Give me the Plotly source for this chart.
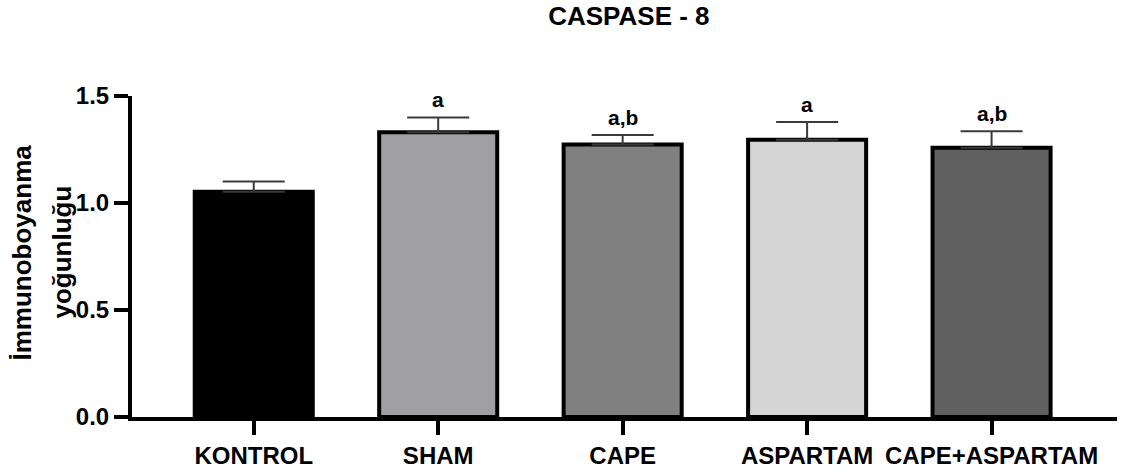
import plotly.graph_objects as go

categories = ["KONTROL", "SHAM", "CAPE", "ASPARTAM", "CAPE+ASPARTAM"]
means = [1.052, 1.331, 1.273, 1.296, 1.258]
sem = [0.048, 0.069, 0.045, 0.083, 0.077]
letters = ["", "a", "a,b", "a", "a,b"]
colors = ["#000000", "#a0a0a4", "#808080", "#d4d4d4", "#606060"]
y_ticks = [0.0, 0.5, 1.0, 1.5]
y_ticklabels = ["0.0", "0.5", "1.0", "1.5"]
y_title_lines = ["İmmunoboyanma", "yoğunluğu"]

FONT = "Liberation Sans, Arial, sans-serif"

fig = go.Figure()
fig.add_trace(go.Bar(
    x=categories, y=means, width=0.64,
    marker=dict(color=colors, line=dict(color="#000000", width=4)),
    error_y=dict(type="data", symmetric=False, array=sem, arrayminus=[0]*len(sem),
                 color="#3a3a3a", thickness=2, width=31),
    showlegend=False,
))

for c, m, e, t in zip(categories, means, sem, letters):
    if t:
        fig.add_annotation(x=c, y=m + e, text=t, showarrow=False, yanchor="bottom",
                           yshift=4, font=dict(family=FONT, size=21, color="#000000", weight="bold"))

for shift, line in zip([-111, -71], y_title_lines):
    fig.add_annotation(xref="paper", yref="paper", x=0, y=0.5, xshift=shift, yshift=4,
                       xanchor="center", yanchor="middle", textangle=-90, showarrow=False,
                       text=line, font=dict(family=FONT, size=26, color="#000000", weight="bold"))

fig.update_layout(
    width=1123, height=475,
    margin=dict(l=132, r=6, t=96, b=53),
    plot_bgcolor="white", paper_bgcolor="white",
    title=dict(text="CASPASE - 8", x=0.56, xanchor="center", y=0.985, yanchor="top",
               font=dict(family=FONT, size=26, color="#000000", weight="bold")),
    font=dict(family=FONT, color="#000000"),
)
fig.update_xaxes(
    type="category", range=[-0.66, 4.68], showline=True, linecolor="#000000", linewidth=4,
    ticks="outside", ticklen=14, tickwidth=4, tickcolor="#000000",
    tickfont=dict(family=FONT, size=24, color="#000000", weight="bold"),
    showgrid=False, zeroline=False,
)
fig.update_yaxes(
    range=[0, 1.5], tickvals=y_ticks, ticktext=y_ticklabels,
    showline=True, linecolor="#000000", linewidth=4,
    ticks="outside", ticklen=14, tickwidth=4, tickcolor="#000000",
    tickfont=dict(family=FONT, size=24, color="#000000", weight="bold"),
    showgrid=False, zeroline=False,
)

fig.write_html("out.html")
